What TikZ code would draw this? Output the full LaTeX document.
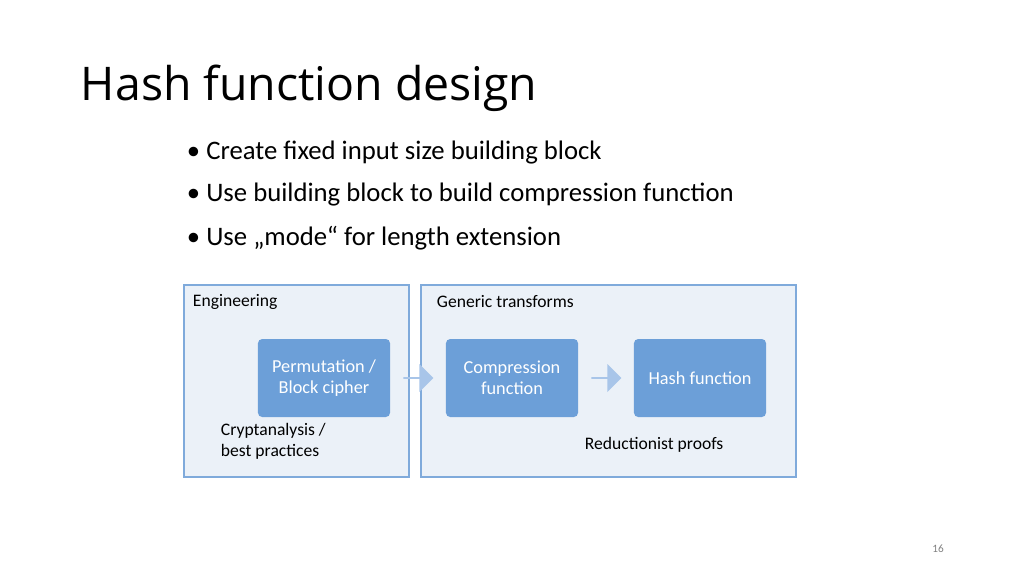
\documentclass[tikz,border=0pt]{standalone}
\usepackage{fontspec}
\setmainfont{Carlito}
\newfontfamily\titlefont{Open Sans}
\usetikzlibrary{shapes.arrows}
\definecolor{myboxfill}{HTML}{EBF1F8}
\definecolor{myboxline}{HTML}{7FAADB}
\definecolor{myblockcolor}{HTML}{6C9FD8}
\definecolor{myarrowcolor}{HTML}{A8C5E9}

\begin{document}
\begin{tikzpicture}[x=0.025cm, y=-0.025cm,
  area/.style={draw=myboxline, fill=myboxfill, line width=0.8pt},
  block/.style={fill=myblockcolor, rounded corners=3pt, minimum width=3.3cm, minimum height=1.95cm, text=white, align=center, font=\fontsize{13pt}{15pt}\selectfont},
  blockarrow/.style={single arrow, fill=myarrowcolor, minimum height=0.75cm, minimum width=0.7cm, single arrow head extend=0.12cm, inner sep=0pt},
  label/.style={anchor=west, align=left, font=\fontsize{12.5pt}{15pt}\selectfont},
  bullet/.style={anchor=west, font=\fontsize{19pt}{22pt}\selectfont}]%
\useasboundingbox (0,0) rectangle (1024,575);%
\node[anchor=base west, font=\titlefont\fontsize{33pt}{36pt}\selectfont] (title) at (76,100) {Hash function design};%
\node[bullet] (b1) at (182,153) {\textbullet\ Create fixed input size building block};%
\node[bullet] (b2) at (182,195) {\textbullet\ Use building block to build compression function};%
\node[bullet] (b3) at (182,238) {\textbullet\ Use „mode“ for length extension};%
\draw[area] (184,285) rectangle (409,477);%
\draw[area] (421,285) rectangle (796,477);%
\node[label] (eng) at (188,302) {Engineering};%
\node[label] (gen) at (432,302) {Generic transforms};%
\node[block] (perm) at (324,378) {Permutation /\\Block cipher};%
\node[block] (comp) at (512,378) {Compression\\function};%
\node[block] (hash) at (700,378) {Hash function};%
\node[blockarrow] (a1) at (418,378) {};%
\node[blockarrow] (a2) at (606,378) {};%
\node[label] (crypt) at (216,441) {Cryptanalysis /\\best practices};%
\node[label] (red) at (580,445) {Reductionist proofs};%
\node[text=gray, font=\fontsize{8pt}{9pt}\selectfont] (page) at (938,549) {16};%
\end{tikzpicture}
\end{document}
